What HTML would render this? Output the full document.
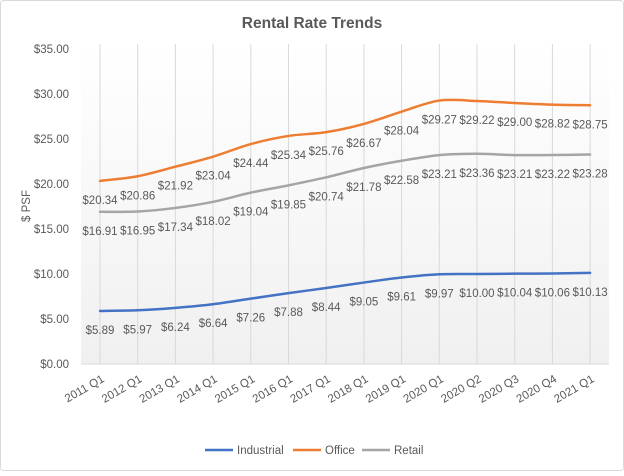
<!DOCTYPE html>
<html><head><meta charset="utf-8"><style>
body{margin:0;background:#fff}
svg text{font-family:"Liberation Sans",sans-serif;fill:#595959}
</style></head><body>
<svg width="624" height="471" xmlns="http://www.w3.org/2000/svg">
<defs><linearGradient id="g" x1="0" y1="0" x2="0" y2="1"><stop offset="0" stop-color="#fff"/><stop offset="1" stop-color="#f0f0f0"/></linearGradient></defs>
<rect x="0.5" y="0.5" width="623" height="470" rx="3" fill="#fff" stroke="#d9d9d9"/>
<rect x="81" y="44" width="528" height="320" fill="url(#g)"/>
<text x="312" y="28" text-anchor="middle" font-size="15.5" font-weight="bold">Rental Rate Trends</text>
<g font-size="11.5" text-anchor="end" id="yl"></g>
<text transform="translate(30,206) rotate(-90)" font-size="11.5" text-anchor="middle">$ PSF</text>
<g id="grid" stroke="#d9d9d9" stroke-width="1"></g>
<g id="lines"></g>
<g id="labels" font-size="11.5" text-anchor="middle"></g>
<g id="xl" font-size="11.5" text-anchor="end"></g>
<g font-size="11.5">
<line x1="205" y1="450" x2="233" y2="450" stroke="#4472c4" stroke-width="2.5"/><text x="237" y="454">Industrial</text>
<line x1="293" y1="450" x2="321" y2="450" stroke="#ed7d31" stroke-width="2.5"/><text x="325" y="454">Office</text>
<line x1="362" y1="450" x2="390" y2="450" stroke="#a5a5a5" stroke-width="2.5"/><text x="394" y="454">Retail</text>
</g>
</svg>
<script>
const ns="http://www.w3.org/2000/svg";
function el(p,t,a,txt){const e=document.createElementNS(ns,t);for(const k in a)e.setAttribute(k,a[k]);if(txt!=null)e.textContent=txt;document.getElementById(p).appendChild(e);}
const cats=["2011 Q1","2012 Q1","2013 Q1","2014 Q1","2015 Q1","2016 Q1","2017 Q1","2018 Q1","2019 Q1","2020 Q1","2020 Q2","2020 Q3","2020 Q4","2021 Q1"];
const X=i=>100+i*37.7, Y=v=>364-v*9;
for(let v=0;v<=35;v+=5)el("yl","text",{x:69,y:Y(v)+4},"$"+v.toFixed(2));
el("grid","line",{x1:81,y1:364,x2:609,y2:364});
cats.forEach((c,i)=>{el("grid","line",{x1:X(i),y1:44,x2:X(i),y2:364});
el("xl","text",{transform:`translate(${X(i)+5},${381}) rotate(-30)`},c);});
const S=[["#4472c4",[5.89,5.97,6.24,6.64,7.26,7.88,8.44,9.05,9.61,9.97,10.00,10.04,10.06,10.13]],
["#ed7d31",[20.34,20.86,21.92,23.04,24.44,25.34,25.76,26.67,28.04,29.27,29.22,29.00,28.82,28.75]],
["#a5a5a5",[16.91,16.95,17.34,18.02,19.04,19.85,20.74,21.78,22.58,23.21,23.36,23.21,23.22,23.28]]];
S.forEach(([col,d])=>{
const P=d.map((v,i)=>[X(i),Y(v)]);let s="M"+P[0];
for(let i=0;i<P.length-1;i++){const p0=P[Math.max(i-1,0)],p1=P[i],p2=P[i+1],p3=P[Math.min(i+2,P.length-1)],t=0.16;
s+=` C${p1[0]+(p2[0]-p0[0])*t},${p1[1]+(p2[1]-p0[1])*t} ${p2[0]-(p3[0]-p1[0])*t},${p2[1]-(p3[1]-p1[1])*t} ${p2[0]},${p2[1]}`;}
el("lines","path",{d:s,fill:"none",stroke:col,"stroke-width":2.5,"stroke-linecap":"round"});
d.forEach((v,i)=>el("labels","text",{x:X(i),y:Y(v)+23},"$"+v.toFixed(2)));});
</script>
</body></html>
